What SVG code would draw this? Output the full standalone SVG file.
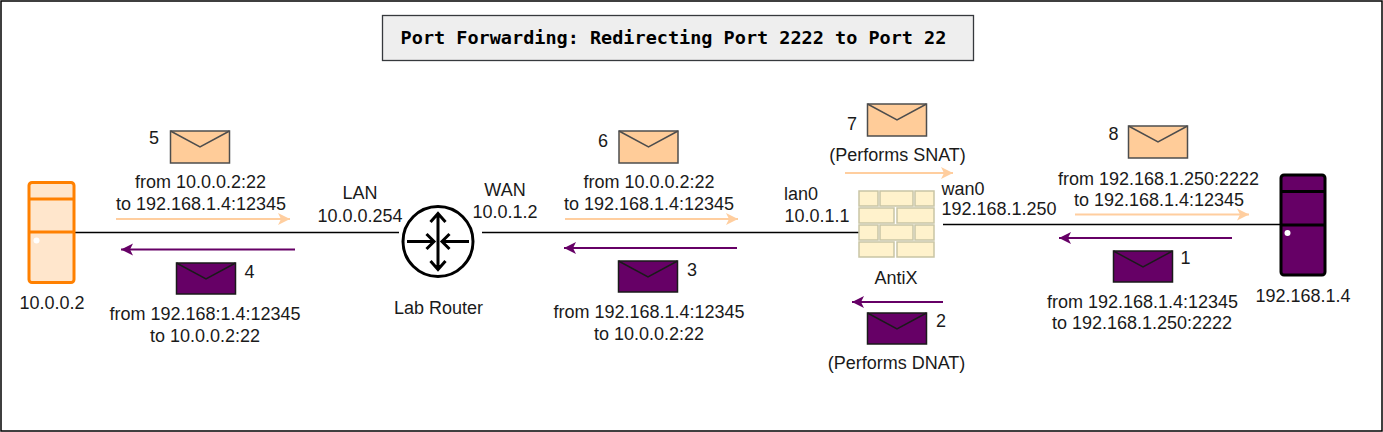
<svg xmlns="http://www.w3.org/2000/svg" width="1383" height="432" viewBox="0 0 1383 432">
<style>
text{font-family:"Liberation Sans",Arial,sans-serif;font-size:18px;fill:#1a1a1a;text-anchor:middle}
.title{font-family:"DejaVu Sans Mono",monospace;font-size:18.5px;font-weight:700;fill:#000}
.c{fill:none;stroke:#000;stroke-width:1.6}
.p{fill:none;stroke:#ffce9f;stroke-width:2;marker-end:url(#ap)}
.v{fill:none;stroke:#660066;stroke-width:2;marker-end:url(#av)}
.ep{fill:#ffcc99;stroke:#4d4d4d;stroke-width:1.5}
.ev{fill:#660066;stroke:#1a1a1a;stroke-width:1.5}
.br{fill:#fff2cc;stroke:#c9c5a5;stroke-width:1.5}
</style>
<defs>
<marker id="ap" markerUnits="userSpaceOnUse" markerWidth="14" markerHeight="14" refX="13" refY="7" orient="auto"><path d="M1 1L13 7L1 13L4 7Z" fill="#ffce9f"/></marker>
<marker id="av" markerUnits="userSpaceOnUse" markerWidth="14" markerHeight="14" refX="13" refY="7" orient="auto"><path d="M1 1L13 7L1 13L4 7Z" fill="#660066"/></marker>
<g id="mp"><rect class="ep" width="59" height="32"/><path class="ep" style="fill:none" d="M0 0L29.500 16L59 0"/></g>
<g id="mv"><rect class="ev" width="59" height="31"/><path class="ev" style="fill:none" d="M0 0L29.500 16L59 0"/></g>
</defs>
<rect x="1" y="1" width="1381" height="430" fill="#fff" stroke="#000" stroke-width="1.500"/>
<g id="title"><rect x="382.500" y="15.500" width="591" height="45" fill="#eeeeee" stroke="#36393d" stroke-width="1.300"/><text class="title" x="673.500" y="44">Port Forwarding: Redirecting Port 2222 to Port 22</text></g>
<g id="connectors">
<path class="c" d="M75 232.500H399"/><path class="c" d="M482 232.500H860"/><path class="c" d="M943 224.500H1280"/>
<path class="p" d="M116 219H290"/><path class="v" d="M295 249.500H121"/>
<path class="p" d="M565 219H738"/><path class="v" d="M737 248H564"/>
<path class="p" d="M845 173H953"/><path class="v" d="M943 302H852"/>
<path class="p" d="M1075 214.500H1249"/><path class="v" d="M1232 238H1059"/>
</g>
<g id="server-left"><rect x="29" y="182.500" width="45" height="100" rx="3" fill="#ffe6cc" stroke="#ff8000" stroke-width="3"/><path d="M29 199H74M29 232H74" stroke="#ff8000" stroke-width="3" fill="none"/><circle cx="36.500" cy="240.500" r="3" fill="#fff"/><text x="52" y="309">10.0.0.2</text></g>
<g id="server-right"><rect x="1281" y="175" width="44" height="100" rx="3" fill="#660066" stroke="#000" stroke-width="3"/><path d="M1281 191.500H1325M1281 225H1325" stroke="#000" stroke-width="3" fill="none"/><circle cx="1287.500" cy="233" r="3" fill="#fff"/><text x="1303" y="302">192.168.1.4</text></g>
<g id="router"><circle cx="438" cy="241.500" r="35" fill="#fff" stroke="#000" stroke-width="3"/>
<path d="M438 214V269M430.500 222L438 213.500L445.500 222M430.500 261L438 269.500L445.500 261M407 241.500H433M426.500 234L434 241.500L426.500 249M469 241.500H443M449.500 234L442 241.500L449.500 249" fill="none" stroke="#000" stroke-width="3"/>
<text x="438.500" y="314">Lab Router</text></g>
<g id="firewall"><rect x="859" y="191" width="19" height="15" class="br"/><rect x="880" y="191" width="33" height="15" class="br"/><rect x="915" y="191" width="19" height="15" class="br"/><rect x="859" y="208" width="35" height="15" class="br"/><rect x="897" y="208" width="37" height="15" class="br"/><rect x="859" y="225" width="19" height="15" class="br"/><rect x="880" y="225" width="33" height="15" class="br"/><rect x="915" y="225" width="19" height="15" class="br"/><rect x="859" y="242" width="35" height="15" class="br"/><rect x="897" y="242" width="37" height="15" class="br"/><text x="896" y="284">AntiX</text></g>
<g id="msg5"><use href="#mp" x="170.500" y="131"/><text x="154" y="144">5</text><text x="200.500" y="188">from 10.0.0.2:22</text><text x="201" y="210">to 192.168.1.4:12345</text></g>
<g id="msg4"><use href="#mv" x="176.500" y="263"/><text x="249.500" y="278">4</text><text x="205" y="320">from 192.168:1.4:12345</text><text x="205" y="342">to 10.0.0.2:22</text></g>
<g id="msg6"><use href="#mp" x="619" y="131"/><text x="603" y="147">6</text><text x="649" y="188">from 10.0.0.2:22</text><text x="649" y="210">to 192.168.1.4:12345</text></g>
<g id="msg3"><use href="#mv" x="618.500" y="261"/><text x="692" y="276">3</text><text x="649" y="318">from 192.168.1.4:12345</text><text x="649" y="340">to 10.0.0.2:22</text></g>
<g id="msg7"><use href="#mp" x="867.500" y="104"/><text x="852" y="130">7</text><text x="897.500" y="161">(Performs SNAT)</text></g>
<g id="msg2"><use href="#mv" x="867.500" y="313"/><text x="941" y="327">2</text><text x="896.500" y="369">(Performs DNAT)</text></g>
<g id="msg8"><use href="#mp" x="1128.500" y="126"/><text x="1113.500" y="140">8</text><text x="1158.500" y="185">from 192.168.1.250:2222</text><text x="1159" y="206">to 192.168.1.4:12345</text></g>
<g id="msg1"><use href="#mv" x="1113.500" y="251"/><text x="1185.500" y="264">1</text><text x="1142.500" y="308">from 192.168.1.4:12345</text><text x="1142" y="329">to 192.168.1.250:2222</text></g>
<g id="labels"><text x="360" y="199">LAN</text><text x="360" y="222">10.0.0.254</text><text x="505" y="196">WAN</text><text x="505" y="218">10.0.1.2</text><text x="801" y="200">lan0</text><text x="817" y="222">10.0.1.1</text><text x="963" y="195">wan0</text><text x="999" y="215">192.168.1.250</text></g>
</svg>
